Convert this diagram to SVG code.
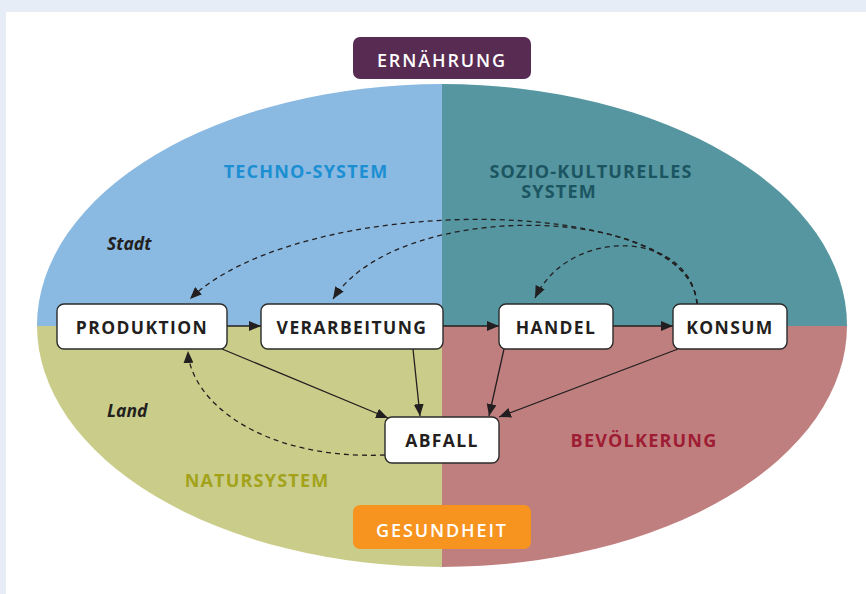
<svg xmlns="http://www.w3.org/2000/svg" width="866" height="594" viewBox="0 0 866 594">
<style>
.node rect{fill:#fff;stroke:#2b2b2b;stroke-width:1.4}
.node text{font-family:"Open Sans","Noto Sans",sans-serif;font-weight:700;font-size:17.5px;fill:#231f20;text-anchor:middle;letter-spacing:1.4px}
.lbl{font-family:"Open Sans","Noto Sans",sans-serif;font-weight:700;font-size:18px;letter-spacing:1.2px}
.tag text{font-family:"Open Sans","Noto Sans",sans-serif;font-weight:600;font-size:18px;fill:#fff;text-anchor:middle;letter-spacing:1.9px}
.it{font-family:"Open Sans","Noto Sans",sans-serif;font-weight:700;font-style:italic;font-size:17.5px;fill:#231f20}
.solid{fill:none;stroke:#231f20;stroke-width:1.3;marker-end:url(#ah)}
.dash{fill:none;stroke:#231f20;stroke-width:1.3;stroke-dasharray:5 4;marker-end:url(#ah)}
</style>
<defs>
<clipPath id="ell"><ellipse cx="442" cy="325.5" rx="405" ry="241.5"/></clipPath>
<marker id="ah" viewBox="0 0 12 10" refX="12" refY="5" markerWidth="12" markerHeight="10" markerUnits="userSpaceOnUse" orient="auto"><path d="M0,0 L12,5 L0,10 Z" fill="#231f20"/></marker>
</defs>
<rect x="0" y="0" width="866" height="594" fill="#e6edf7"/>
<rect x="6" y="12" width="860" height="582" fill="#fff"/>
<g id="ellipse" clip-path="url(#ell)">
<rect x="30" y="80" width="412" height="246" fill="#8ab9e1"/>
<rect x="442" y="80" width="420" height="246" fill="#5596a0"/>
<rect x="30" y="326" width="412" height="250" fill="#cacd89"/>
<rect x="442" y="326" width="420" height="250" fill="#c07f7f"/>
</g>
<g id="labels">
<text class="lbl" x="306" y="178" fill="#1b8fd2" text-anchor="middle">TECHNO-SYSTEM</text>
<text class="lbl" fill="#1c5562" text-anchor="middle"><tspan x="591" y="178">SOZIO-KULTURELLES</tspan><tspan x="559" y="198">SYSTEM</tspan></text>
<text class="lbl" x="257" y="487" fill="#a3a21b" text-anchor="middle">NATURSYSTEM</text>
<text class="lbl" x="644" y="447" fill="#9e1c34" text-anchor="middle">BEVÖLKERUNG</text>
<text class="it" x="107" y="250">Stadt</text>
<text class="it" x="107" y="417">Land</text>
</g>
<g id="ernaehrung" class="tag">
<rect x="353" y="37" width="178" height="42" rx="7" fill="#582b52"/>
<text x="442" y="67">ERNÄHRUNG</text>
</g>
<g id="gesundheit" class="tag">
<rect x="353" y="505" width="178" height="44" rx="7" fill="#f7941f"/>
<text x="442" y="537">GESUNDHEIT</text>
</g>
<g id="connectors">
<path class="solid" d="M227,326 L261,326"/>
<path class="solid" d="M443,326 L499,326"/>
<path class="solid" d="M613,326 L673,326"/>
<path class="solid" d="M222,349 L388,418"/>
<path class="solid" d="M413,349 L420,416"/>
<path class="solid" d="M504,349 L489,416"/>
<path class="solid" d="M678,349 L499,417"/>
<path class="dash" d="M697,304 C690,192 300,192 190,299"/>
<path class="dash" d="M697,304 C690,205 400,195 333,299"/>
<path class="dash" d="M697,304 C690,230 570,225 535,298"/>
<path class="dash" d="M385,455 C260,460 190,400 188,351"/>
</g>
<g id="produktion" class="node"><rect x="57" y="304" width="170" height="45" rx="7"/><text x="142" y="334">PRODUKTION</text></g>
<g id="verarbeitung" class="node"><rect x="261" y="304" width="182" height="45" rx="7"/><text x="352" y="334">VERARBEITUNG</text></g>
<g id="handel" class="node"><rect x="499" y="304" width="114" height="45" rx="7"/><text x="556" y="334">HANDEL</text></g>
<g id="konsum" class="node"><rect x="673" y="304" width="114" height="45" rx="7"/><text x="730" y="334">KONSUM</text></g>
<g id="abfall" class="node"><rect x="385" y="417" width="114" height="46" rx="7"/><text x="442" y="447">ABFALL</text></g>
</svg>
